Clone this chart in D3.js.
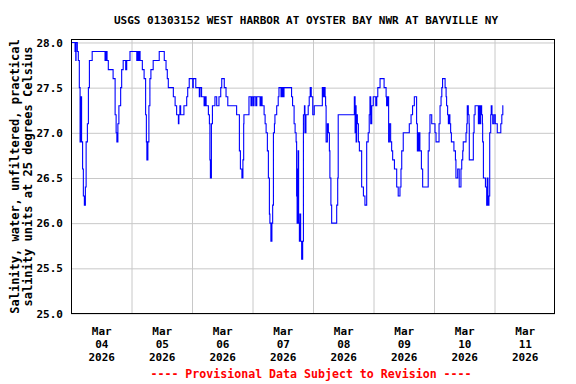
<!DOCTYPE html>
<html>
<head>
<meta charset="utf-8">
<script src="https://cdn.jsdelivr.net/npm/d3@7"></script>
<style>
  body { margin: 0; background: #fff; }
  text { font-family: "DejaVu Sans Mono", "Liberation Mono", monospace; font-weight: bold; }
</style>
</head>
<body>
<div id="vis"></div>
<script>
// Chart text
const TITLE = "USGS 01303152 WEST HARBOR AT OYSTER BAY NWR AT BAYVILLE NY";
const Y_LABEL = ["Salinity, water, unfiltered, practical", "salinity units at 25 degrees Celsius"];
const FOOTER = "---- Provisional Data Subject to Revision ----";

// Time axis: days shown and tick labels
const START = Date.UTC(2026, 2, 4);
const DAY_COUNT = 8;
const DAY_LABELS = ["04", "05", "06", "07", "08", "09", "10", "11"];
const MONTH_LABEL = "Mar";
const YEAR_LABEL = "2026";
const Y_TICKS = [25.0, 25.5, 26.0, 26.5, 27.0, 27.5, 28.0];

// Salinity readings (hours after Mar 04 00:00, value)
const hours = [
  0, 1.6, 1.9, 2.0, 2.5, 2.9, 3.3, 3.6, 3.8, 4.2,
  4.6, 4.9, 5.3, 5.7, 6.0, 6.5, 6.9, 7.3, 8.4, 13.5,
  13.9, 14.3, 14.8, 16.7, 17.5, 17.9, 18.2, 18.6, 19.0, 19.7,
  20.1, 20.7, 21.7, 22.1, 23.4, 26.1, 26.3, 26.7, 27.0, 27.4,
  28.3, 29.0, 29.6, 29.9, 30.1, 30.5, 30.9, 31.3, 31.7, 32.6,
  35.0, 37.0, 37.7, 38.2, 38.6, 40.6, 41.3, 41.9, 42.6, 42.8,
  43.2, 43.5, 44.8, 45.9, 46.3, 46.9,
  48.3, 48.5, 49.5, 50.9, 51.2, 51.8, 52.8, 53.2, 53.6, 54.5,
  54.9, 55.1, 55.3, 55.7, 56.1, 57.1, 57.8, 58.7, 59.4, 59.8,
  60.8, 61.5, 62.2, 65.7, 66.8, 67.2, 67.8, 68.2, 68.5, 68.6,
  70.6, 71.4, 71.8, 72.3, 72.6, 73.3, 73.7, 75.0, 75.4, 75.8,
  76.6, 77.0, 77.4, 77.9, 78.3, 78.7, 78.9, 79.3, 79.7, 80.0,
  80.3, 80.7, 80.9, 81.6, 82.2, 82.5, 83.3, 83.7, 84.1, 84.5,
  87.5, 87.9, 88.5, 88.9, 89.3, 89.5, 89.7, 89.9, 90.1, 90.3,
  90.6, 90.8, 91.1, 91.5, 91.9, 92.2,
  92.6, 92.8, 93.2, 94.1, 94.5, 94.9, 95.3, 95.9, 96.5, 99.7,
  100.1, 100.5, 100.8, 101.0, 101.2, 101.7, 102.1, 102.5, 102.7, 103.1,
  103.4, 105.4, 105.8, 106.0, 112.4, 112.7, 112.9, 113.1, 113.3, 113.6,
  114.0, 114.4, 115.3, 116.0, 116.6, 117.3, 117.9, 118.3, 118.6, 118.9,
  119.3, 119.9, 120.9, 121.3, 121.7, 122.6, 124.2, 125.0, 125.2, 125.6,
  126.0, 126.3, 126.8, 127.2, 127.6, 128.3, 129.2, 129.8, 130.5, 130.9,
  131.2, 131.8, 134.2, 134.9, 135.5, 136.2, 137.1, 137.4, 137.7, 137.9,
  138.2, 138.4, 139.0, 139.5, 141.7, 142.1, 142.4, 143.1, 144.4, 144.8,
  146.0, 146.4, 146.8, 147.1, 147.4, 148.4, 148.8, 149.0, 149.4, 149.7,
  150.0, 150.3, 150.6, 150.9, 151.9, 152.5, 152.7, 153.4, 154.0, 154.7,
  155.0, 155.4, 155.6, 156.7, 157.0, 157.2, 157.6, 157.9, 158.0, 159.6,
  159.9, 160.3, 161.6, 161.9, 162.1, 162.5, 162.9, 163.2, 163.3, 163.6,
  164.4, 164.9, 165.1, 165.4, 165.8, 166.1, 166.5, 166.7, 167.0, 167.3,
  167.8, 168.3, 169.1, 170.5, 170.9, 171.3, 171.5
];
const salinity = [
  28.0, 27.9, 27.8, 28.0, 27.9, 27.8, 27.5, 26.9, 27.4, 26.9,
  26.6, 26.3, 26.2, 26.4, 26.9, 27.1, 27.5, 27.8, 27.9, 27.8,
  27.9, 27.8, 27.7, 27.6, 27.2, 27.0, 26.9, 27.1, 27.3, 27.5,
  27.7, 27.8, 27.7, 27.8, 27.9, 27.8, 27.9, 27.8, 27.9, 27.8,
  27.7, 27.6, 27.2, 26.9, 26.7, 26.9, 27.3, 27.6, 27.7, 27.8,
  27.9, 27.8, 27.7, 27.6, 27.5, 27.4, 27.3, 27.2, 27.1, 27.2,
  27.3, 27.2, 27.3, 27.4, 27.5, 27.6,
  27.5, 27.6, 27.5, 27.4, 27.5, 27.4, 27.3, 27.4, 27.3, 27.2,
  27.1, 26.7, 26.5, 27.1, 27.3, 27.4, 27.3, 27.4, 27.5, 27.6,
  27.5, 27.4, 27.3, 27.2, 26.8, 26.6, 26.5, 26.7, 27.1, 27.2,
  27.4, 27.3, 27.4, 27.3, 27.4, 27.3, 27.4, 27.3, 27.4, 27.3,
  27.2, 27.1, 27.0, 26.8, 26.5, 26.1, 26.0, 25.8, 26.0, 26.2,
  27.0, 27.1, 27.2, 27.3, 27.4, 27.5, 27.4, 27.5, 27.4, 27.5,
  27.4, 27.3, 27.1, 27.0, 26.9, 26.3, 26.0, 26.6, 26.8, 26.0,
  25.8, 26.1, 25.8, 25.6, 25.8, 27.2,
  27.3, 27.0, 27.2, 27.3, 27.4, 27.5, 27.4, 27.2, 27.3, 27.5,
  27.4, 27.5, 27.4, 27.3, 26.9, 27.1, 27.0, 26.8, 26.5, 26.2,
  26.0, 26.2, 26.5, 27.2, 27.4, 27.0, 27.3, 26.9, 27.2, 27.1,
  26.9, 26.8, 26.4, 26.3, 26.2, 26.9, 27.0, 27.2, 27.4, 27.1,
  27.3, 27.4, 27.3, 27.4, 27.5, 27.6, 27.5, 27.4, 27.3, 27.4,
  26.9, 27.1, 26.9, 26.8, 26.7, 26.6, 26.4, 26.3, 26.4, 26.6,
  26.8, 27.0, 27.1, 27.2, 27.3, 27.4, 27.1, 26.8, 27.0, 26.8,
  27.0, 26.8, 26.6, 26.4, 26.8, 27.0, 27.2, 27.1, 27.0, 26.9,
  27.1, 27.3, 27.4, 27.5, 27.6, 27.5, 27.4, 27.3, 27.2, 27.1,
  27.2, 27.1, 27.0, 26.9, 26.8, 26.7, 26.5, 26.6, 26.4, 26.6,
  26.7, 26.8, 26.9, 27.0, 27.1, 27.3, 27.2, 27.1, 26.7, 27.0,
  27.2, 27.3, 27.1, 27.3, 27.1, 27.3, 27.2, 27.1, 26.9, 26.5,
  26.4, 26.2, 26.5, 26.2, 26.3, 27.0, 27.2, 27.3, 27.2, 27.1,
  27.2, 27.1, 27.0, 27.1, 27.2, 27.3, 27.3
];

// Frame and plot area
const FRAME_WIDTH = 576;
const FRAME_HEIGHT = 384;
const PLOT = {left: 71, right: 555, top: 39.5, bottom: 313.5};
const HOUR = 3600 * 1000;
const DAY = 24 * HOUR;

const FRAME = d3.select("#vis")
  .append("svg")
    .attr("width", FRAME_WIDTH)
    .attr("height", FRAME_HEIGHT)
    .style("background", "#fff");

// Scales
const X_SCALE = d3.scaleUtc()
  .domain([START, START + DAY_COUNT * DAY])
  .range([PLOT.left, PLOT.right]);

const Y_SCALE = d3.scaleLinear()
  .domain([25, 28.033])
  .range([PLOT.bottom, PLOT.top]);

// Vertical grid lines at midnight
const midnights = d3.range(1, DAY_COUNT).map(i => START + i * DAY);
FRAME.append("g")
  .attr("transform", "translate(0," + PLOT.bottom + ")")
  .call(d3.axisBottom(X_SCALE)
    .tickValues(midnights)
    .tickSize(-(PLOT.bottom - PLOT.top))
    .tickFormat(""))
  .call(g => g.select(".domain").remove())
  .call(g => g.selectAll("line").attr("stroke", "#c8c8c8"));

// Horizontal grid lines and y tick labels
FRAME.append("g")
  .attr("transform", "translate(" + PLOT.left + ",0)")
  .call(d3.axisLeft(Y_SCALE)
    .tickValues(Y_TICKS)
    .tickSize(-(PLOT.right - PLOT.left))
    .tickPadding(8)
    .tickFormat(d3.format(".1f")))
  .call(g => g.select(".domain").remove())
  .call(g => g.selectAll("line").attr("stroke", "#c8c8c8"))
  .call(g => g.selectAll("text")
    .attr("fill", "#000")
    .attr("font-size", "11px")
    .attr("font-family", "DejaVu Sans Mono, monospace"));

// Day labels centered at noon
const noons = d3.range(DAY_COUNT).map(i => START + i * DAY + 12 * HOUR);
const xLabels = FRAME.append("g")
  .attr("transform", "translate(0," + PLOT.bottom + ")")
  .call(d3.axisBottom(X_SCALE)
    .tickValues(noons)
    .tickSize(0)
    .tickFormat((d, i) => DAY_LABELS[i]));
xLabels.select(".domain").remove();
xLabels.selectAll("text")
  .attr("fill", "#000")
  .attr("font-size", "11px")
  .attr("font-family", "DejaVu Sans Mono, monospace")
  .attr("y", 0)
  .attr("dy", null)
  .each(function(d, i) {
    const t = d3.select(this).text(null);
    t.append("tspan").attr("x", 0).attr("y", 21).text(MONTH_LABEL);
    t.append("tspan").attr("x", 0).attr("y", 34.5).text(DAY_LABELS[i]);
    t.append("tspan").attr("x", 0).attr("y", 47.5).text(YEAR_LABEL);
  });

// Salinity line
const points = hours.map((h, i) => ({t: START + h * HOUR, v: salinity[i]}));
const line = d3.line()
  .x(d => X_SCALE(d.t))
  .y(d => Y_SCALE(d.v))
  .curve(d3.curveStepAfter);

FRAME.append("path")
  .datum(points)
  .attr("d", line)
  .attr("fill", "none")
  .attr("stroke", "#0000ff")
  .attr("stroke-width", 1.1);

// Plot frame
FRAME.append("rect")
  .attr("x", PLOT.left + 0.5)
  .attr("y", PLOT.top)
  .attr("width", PLOT.right - PLOT.left - 1)
  .attr("height", PLOT.bottom - PLOT.top)
  .attr("fill", "none")
  .attr("stroke", "#000")
  .attr("stroke-width", 1);

// Title
FRAME.append("text")
  .attr("x", 306)
  .attr("y", 24)
  .attr("text-anchor", "middle")
  .attr("font-size", "11px")
  .text(TITLE);

// Y axis title, two rotated lines
Y_LABEL.forEach((s, i) => {
  FRAME.append("text")
    .attr("transform", "translate(" + (19 + i * 13) + "," + ((PLOT.top + PLOT.bottom) / 2) + ") rotate(-90)")
    .attr("text-anchor", "middle")
    .attr("font-size", "12px")
    .text(s);
});

// Footer
FRAME.append("text")
  .attr("x", 311)
  .attr("y", 378)
  .attr("text-anchor", "middle")
  .attr("font-size", "11.6px")
  .attr("fill", "#ff0000")
  .text(FOOTER);
</script>
</body>
</html>
